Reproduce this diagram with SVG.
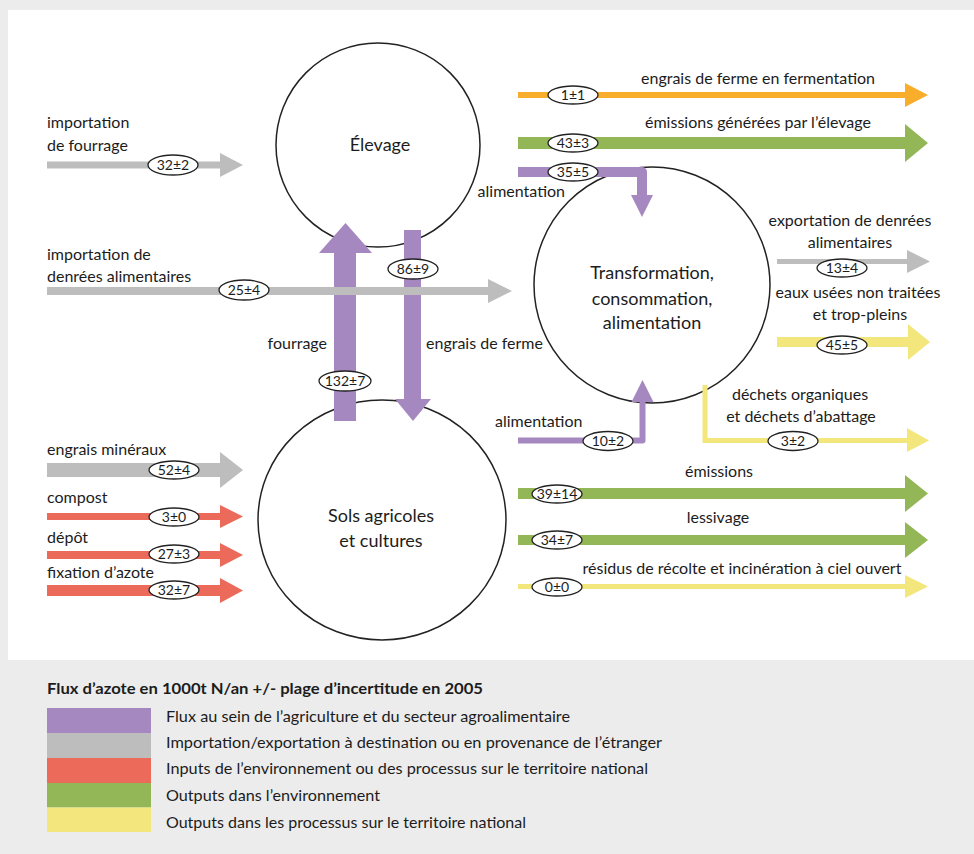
<svg xmlns="http://www.w3.org/2000/svg" width="974" height="854" viewBox="0 0 974 854">
<style>
text{font-family:Lato,"Open Sans","Liberation Sans",sans-serif;fill:#1c1c1c;}
.lbl{font-size:16px;}
.ctr{text-anchor:middle;}
.end{text-anchor:end;}
.node{fill:none;stroke:#222;stroke-width:1.5;}
.ntx{font-size:18px;text-anchor:middle;}
.ov{fill:#fff;stroke:#222;stroke-width:1.3;}
.ovt{font-size:14px;text-anchor:middle;}
.pu{fill:#a688c0;}
.gr{fill:#bdbdbd;}
.rd{fill:#ec6a5a;}
.gn{fill:#93b656;}
.ye{fill:#f2e67c;}
.or{fill:#f8ad2b;}
.leg{font-size:15px;}
</style>
<rect x="0" y="0" width="974" height="854" fill="#ececec"/>
<rect x="8" y="10" width="966" height="650" fill="#fff"/>

<g id="node-elevage">
<circle class="node" cx="378" cy="145" r="102"/>
<text class="ntx" x="380" y="151">Élevage</text>
</g>
<g id="node-sols">
<ellipse class="node" cx="382" cy="520" rx="124" ry="120"/>
<text class="ntx" x="381" y="522">Sols agricoles</text>
<text class="ntx" x="381" y="547">et cultures</text>
</g>
<g id="node-transformation">
<circle class="node" cx="652" cy="285" r="118"/>
<text class="ntx" x="652" y="279">Transformation,</text>
<text class="ntx" x="652" y="305">consommation,</text>
<text class="ntx" x="652" y="329">alimentation</text>
</g>

<g id="connectors">
<polygon class="pu" points="334,421 334,253 319,253 345.5,223 372,253 356,253 356,421"/>
<polygon class="pu" points="404,230 421,230 421,399 431,399 413,421 395,399 404,399"/>
<polygon class="gr" points="47,161.5 220,161.5 220,153 243,165 220,177 220,168.5 47,168.5"/>
<polygon class="gr" points="47,287 488,287 488,279 512,291 488,303 488,295 47,295"/>
<polygon class="gr" points="47,463 220,463 220,452 243,470 220,488 220,477 47,477"/>
<polygon class="rd" points="47,513 220,513 220,505 243,516.5 220,528 220,520 47,520"/>
<polygon class="rd" points="47,551 220,551 220,543 243,555 220,567 220,559 47,559"/>
<polygon class="rd" points="47,585 220,585 220,578 243,590.5 220,603 220,596 47,596"/>
<polygon class="or" points="518,92 905,92 905,83 928,95 905,107 905,98 518,98"/>
<polygon class="gn" points="518,137 905,137 905,124 928,143 905,162 905,149 518,149"/>
<path d="M518,172 H642 V196" fill="none" stroke="#a688c0" stroke-width="10" stroke-linejoin="round"/>
<polygon class="pu" points="631,195 653,195 642,217"/>
<polygon class="gr" points="777,259 907,259 907,250 930,261.5 907,273 907,264 777,264"/>
<polygon class="ye" points="777,337 908,337 908,324 930,342 908,360 908,347 777,347"/>
<path d="M705,385 V440.5 H908" fill="none" stroke="#f2e67c" stroke-width="5"/>
<polygon class="ye" points="907,428 929,440.5 907,452"/>
<path d="M518,440.5 H642.5 V401" fill="none" stroke="#a688c0" stroke-width="6" stroke-linejoin="round"/>
<polygon class="pu" points="631.5,402 653.5,402 642.5,380"/>
<polygon class="gn" points="518,488 905,488 905,475 928,493.5 905,512 905,499 518,499"/>
<polygon class="gn" points="518,535 905,535 905,522 928,540 905,558 905,545 518,545"/>
<polygon class="ye" points="518,584 905,584 905,575 928,586.5 905,598 905,589 518,589"/>
</g>

<g id="labels">
<text class="lbl" x="47" y="128">importation</text>
<text class="lbl" x="47" y="151">de fourrage</text>
<text class="lbl" x="47" y="260">importation de</text>
<text class="lbl" x="47" y="282">denrées alimentaires</text>
<text class="lbl" x="47" y="455">engrais minéraux</text>
<text class="lbl" x="47" y="503">compost</text>
<text class="lbl" x="47" y="543">dépôt</text>
<text class="lbl" x="47" y="578">fixation d’azote</text>
<text class="lbl end" x="327" y="349">fourrage</text>
<text class="lbl" x="426" y="349">engrais de ferme</text>
<text class="lbl ctr" x="758" y="84">engrais de ferme en fermentation</text>
<text class="lbl ctr" x="758" y="128">émissions générées par l’élevage</text>
<text class="lbl end" x="565" y="197">alimentation</text>
<text class="lbl ctr" x="850" y="226">exportation de denrées</text>
<text class="lbl ctr" x="850" y="248">alimentaires</text>
<text class="lbl ctr" x="858" y="298">eaux usées non traitées</text>
<text class="lbl ctr" x="860" y="320">et trop-pleins</text>
<text class="lbl ctr" x="800" y="400">déchets organiques</text>
<text class="lbl ctr" x="801" y="422">et déchets d’abattage</text>
<text class="lbl" x="495" y="427">alimentation</text>
<text class="lbl ctr" x="719" y="477">émissions</text>
<text class="lbl ctr" x="718" y="523">lessivage</text>
<text class="lbl ctr" x="742" y="574">résidus de récolte et incinération à ciel ouvert</text>
</g>

<g id="values">
<ellipse class="ov" cx="173" cy="165" rx="25" ry="10"/><text class="ovt" x="173" y="170">32±2</text>
<ellipse class="ov" cx="244" cy="290" rx="25" ry="10"/><text class="ovt" x="244" y="295">25±4</text>
<ellipse class="ov" cx="345" cy="381" rx="26" ry="10"/><text class="ovt" x="345" y="386">132±7</text>
<ellipse class="ov" cx="413" cy="269" rx="25" ry="10"/><text class="ovt" x="413" y="274">86±9</text>
<ellipse class="ov" cx="174" cy="470" rx="25" ry="9"/><text class="ovt" x="174" y="475">52±4</text>
<ellipse class="ov" cx="174" cy="517" rx="25" ry="9"/><text class="ovt" x="174" y="522">3±0</text>
<ellipse class="ov" cx="174" cy="554" rx="25" ry="9"/><text class="ovt" x="174" y="559">27±3</text>
<ellipse class="ov" cx="174" cy="590" rx="25" ry="9"/><text class="ovt" x="174" y="595">32±7</text>
<ellipse class="ov" cx="573" cy="95" rx="25" ry="9"/><text class="ovt" x="573" y="100">1±1</text>
<ellipse class="ov" cx="573" cy="143" rx="25" ry="9"/><text class="ovt" x="573" y="148">43±3</text>
<ellipse class="ov" cx="573" cy="172" rx="25" ry="9"/><text class="ovt" x="573" y="177">35±5</text>
<ellipse class="ov" cx="842" cy="268" rx="25" ry="9"/><text class="ovt" x="842" y="273">13±4</text>
<ellipse class="ov" cx="842" cy="345" rx="25" ry="9"/><text class="ovt" x="842" y="350">45±5</text>
<ellipse class="ov" cx="793" cy="441" rx="25" ry="9.5"/><text class="ovt" x="793" y="446">3±2</text>
<ellipse class="ov" cx="608" cy="441" rx="25" ry="9.5"/><text class="ovt" x="608" y="446">10±2</text>
<ellipse class="ov" cx="557" cy="494" rx="25" ry="9"/><text class="ovt" x="557" y="499">39±14</text>
<ellipse class="ov" cx="557" cy="540" rx="25" ry="9"/><text class="ovt" x="557" y="545">34±7</text>
<ellipse class="ov" cx="557" cy="587" rx="25" ry="9"/><text class="ovt" x="557" y="592">0±0</text>
</g>

<g id="legend">
<text x="47" y="694" style="font-size:15px;font-weight:bold" textLength="436" lengthAdjust="spacingAndGlyphs">Flux d’azote en 1000t N/an +/- plage d’incertitude en 2005</text>
<rect class="pu" x="47" y="708" width="104" height="25"/>
<rect class="gr" x="47" y="733" width="104" height="25"/>
<rect class="rd" x="47" y="758" width="104" height="25"/>
<rect class="gn" x="47" y="783" width="104" height="24.5"/>
<rect class="ye" x="47" y="807.5" width="104" height="24.5"/>
<text class="leg" x="166" y="722" textLength="404" lengthAdjust="spacingAndGlyphs">Flux au sein de l’agriculture et du secteur agroalimentaire</text>
<text class="leg" x="166" y="748" textLength="496" lengthAdjust="spacingAndGlyphs">Importation/exportation à destination ou en provenance de l’étranger</text>
<text class="leg" x="166" y="774" textLength="482" lengthAdjust="spacingAndGlyphs">Inputs de l’environnement ou des processus sur le territoire national</text>
<text class="leg" x="166" y="801" textLength="214" lengthAdjust="spacingAndGlyphs">Outputs dans l’environnement</text>
<text class="leg" x="166" y="828" textLength="360" lengthAdjust="spacingAndGlyphs">Outputs dans les processus sur le territoire national</text>
</g>
</svg>
